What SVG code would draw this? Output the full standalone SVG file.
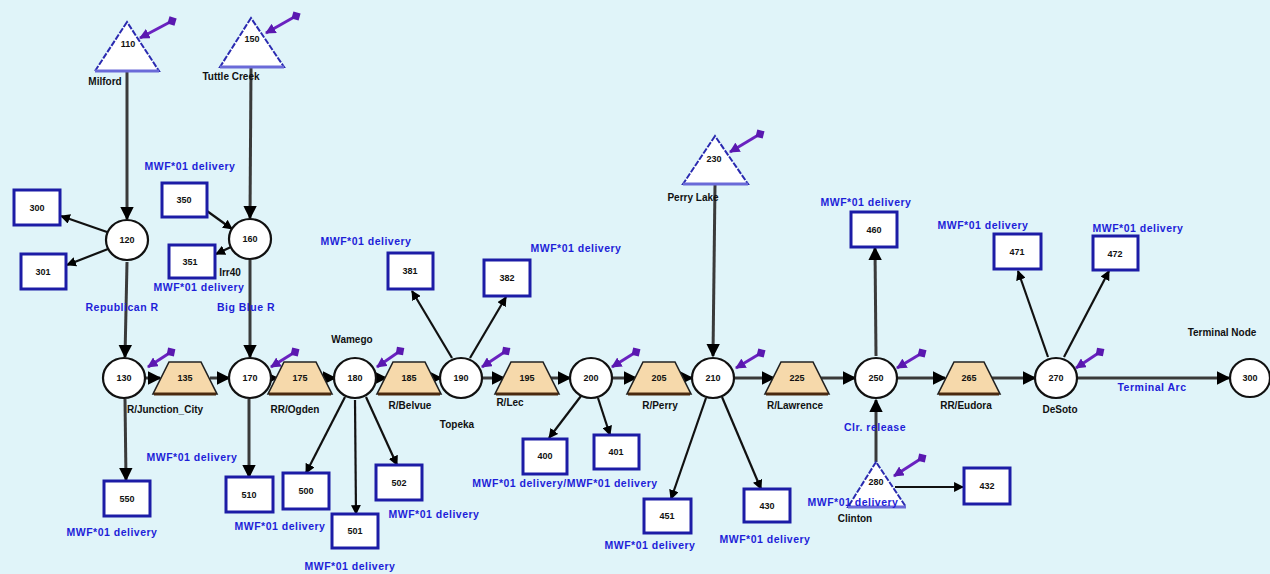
<svg xmlns="http://www.w3.org/2000/svg" width="1270" height="574" viewBox="0 0 1270 574">
<defs>
<style>
.bg{fill:#e0f4f9}
.circ{fill:#fff;stroke:#111;stroke-width:2.2}
.trap{fill:#f6d9ab;stroke:#222;stroke-width:1.6}
.trapb{stroke:#4a2a10;stroke-width:3}
.box{fill:#fff;stroke:#1c1ca6;stroke-width:3}
.tri{fill:#fff;stroke:#2a2ab0;stroke-width:2;stroke-dasharray:6 1.5}
.trib{stroke:#6a6ad8;stroke-width:3}
.num{font-family:"Liberation Sans",Arial,sans-serif;font-size:9px;font-weight:bold;fill:#111;text-anchor:middle}
.lbl{font-family:"Liberation Sans",Arial,sans-serif;font-size:10px;font-weight:bold;fill:#111;text-anchor:middle}
.blu{font-family:"Liberation Sans",Arial,sans-serif;font-size:10.5px;font-weight:bold;fill:#1e1ed8;text-anchor:middle;letter-spacing:0.5px}
.arc{stroke:#3a3a3a;stroke-width:3;fill:none}
.arc2{stroke:#111;stroke-width:2.2;fill:none}
.pur{stroke:#6a22c0;stroke-width:3;fill:none}
</style>
<marker id="ah" viewBox="0 0 10 10" refX="9" refY="5" markerWidth="4.5" markerHeight="4.5" orient="auto" markerUnits="strokeWidth">
<path d="M0,0 L10,5 L0,10 z" fill="#000"/>
</marker>
<marker id="ph" viewBox="0 0 10 10" refX="9" refY="5" markerWidth="3.5" markerHeight="3.5" orient="auto" markerUnits="strokeWidth">
<path d="M0,0 L10,5 L0,10 z" fill="#5a18b0"/>
</marker>
<marker id="pt" viewBox="0 0 10 10" refX="5" refY="5" markerWidth="3.5" markerHeight="3.5" orient="auto" markerUnits="strokeWidth">
<path d="M5,0 L10,5 L5,10 L0,5 z" fill="#5a18b0"/>
</marker>
</defs>
<rect class="bg" x="0" y="0" width="1270" height="574"/>

<g id="connectors">
<line class="arc" x1="146" y1="378" x2="160" y2="378" marker-end="url(#ah)"/>
<line class="arc" x1="210" y1="378" x2="229" y2="378" marker-end="url(#ah)"/>
<line class="arc" x1="271" y1="378" x2="277" y2="378" marker-end="url(#ah)"/>
<line class="arc" x1="324" y1="378" x2="335" y2="378" marker-end="url(#ah)"/>
<line class="arc" x1="376" y1="378" x2="386" y2="378" marker-end="url(#ah)"/>
<line class="arc" x1="433" y1="378" x2="441" y2="378" marker-end="url(#ah)"/>
<line class="arc" x1="482" y1="378" x2="504" y2="378" marker-end="url(#ah)"/>
<line class="arc" x1="551" y1="378" x2="570" y2="378" marker-end="url(#ah)"/>
<line class="arc" x1="612" y1="378" x2="636" y2="378" marker-end="url(#ah)"/>
<line class="arc" x1="683" y1="378" x2="692" y2="378" marker-end="url(#ah)"/>
<line class="arc" x1="734" y1="378" x2="774" y2="378" marker-end="url(#ah)"/>
<line class="arc" x1="821" y1="378" x2="855" y2="378" marker-end="url(#ah)"/>
<line class="arc" x1="897" y1="378" x2="945" y2="378" marker-end="url(#ah)"/>
<line class="arc" x1="992" y1="378" x2="1035" y2="378" marker-end="url(#ah)"/>
<line class="arc" x1="1077" y1="378" x2="1229" y2="378" marker-end="url(#ah)"/>
<line class="arc" x1="127" y1="72" x2="127" y2="219" marker-end="url(#ah)"/>
<line class="arc" x1="127" y1="262" x2="125" y2="357" marker-end="url(#ah)"/>
<line class="arc" x1="125" y1="399" x2="126" y2="480" marker-end="url(#ah)"/>
<line class="arc" x1="251" y1="68" x2="250" y2="218" marker-end="url(#ah)"/>
<line class="arc" x1="250" y1="260" x2="250" y2="357" marker-end="url(#ah)"/>
<line class="arc" x1="249" y1="399" x2="249" y2="477" marker-end="url(#ah)"/>
<line class="arc" x1="715" y1="185" x2="713" y2="356" marker-end="url(#ah)"/>
<line class="arc" x1="876" y1="462" x2="876" y2="400" marker-end="url(#ah)"/>
<line class="arc" x1="876" y1="356" x2="875" y2="248" marker-end="url(#ah)"/>
<line class="arc2" x1="107" y1="232" x2="61" y2="216" marker-end="url(#ah)"/>
<line class="arc2" x1="108" y1="249" x2="67" y2="265" marker-end="url(#ah)"/>
<line class="arc2" x1="207" y1="211" x2="232" y2="229" marker-end="url(#ah)"/>
<line class="arc2" x1="231" y1="247" x2="216" y2="254" marker-end="url(#ah)"/>
<line class="arc2" x1="345" y1="397" x2="306" y2="473" marker-end="url(#ah)"/>
<line class="arc2" x1="355" y1="400" x2="356" y2="514" marker-end="url(#ah)"/>
<line class="arc2" x1="366" y1="397" x2="397" y2="465" marker-end="url(#ah)"/>
<line class="arc2" x1="452" y1="358" x2="412" y2="291" marker-end="url(#ah)"/>
<line class="arc2" x1="470" y1="358" x2="506" y2="297" marker-end="url(#ah)"/>
<line class="arc2" x1="581" y1="396" x2="549" y2="438" marker-end="url(#ah)"/>
<line class="arc2" x1="598" y1="398" x2="610" y2="435" marker-end="url(#ah)"/>
<line class="arc2" x1="706" y1="398" x2="671" y2="499" marker-end="url(#ah)"/>
<line class="arc2" x1="722" y1="397" x2="761" y2="489" marker-end="url(#ah)"/>
<line class="arc2" x1="1048" y1="357" x2="1018" y2="271" marker-end="url(#ah)"/>
<line class="arc2" x1="1064" y1="357" x2="1109" y2="271" marker-end="url(#ah)"/>
<line class="arc2" x1="895" y1="487" x2="963" y2="487" marker-end="url(#ah)"/>
<line class="pur" x1="172" y1="21" x2="140" y2="38" marker-start="url(#pt)" marker-end="url(#ph)"/>
<line class="pur" x1="296" y1="16" x2="266" y2="33" marker-start="url(#pt)" marker-end="url(#ph)"/>
<line class="pur" x1="760" y1="134" x2="730" y2="152" marker-start="url(#pt)" marker-end="url(#ph)"/>
<line class="pur" x1="922" y1="458" x2="894" y2="476" marker-start="url(#pt)" marker-end="url(#ph)"/>
<line class="pur" x1="171" y1="352" x2="148" y2="367" marker-start="url(#pt)" marker-end="url(#ph)"/>
<line class="pur" x1="295" y1="352" x2="271" y2="367" marker-start="url(#pt)" marker-end="url(#ph)"/>
<line class="pur" x1="400" y1="351" x2="377" y2="367" marker-start="url(#pt)" marker-end="url(#ph)"/>
<line class="pur" x1="506" y1="351" x2="482" y2="367" marker-start="url(#pt)" marker-end="url(#ph)"/>
<line class="pur" x1="636" y1="352" x2="612" y2="367" marker-start="url(#pt)" marker-end="url(#ph)"/>
<line class="pur" x1="761" y1="353" x2="736" y2="368" marker-start="url(#pt)" marker-end="url(#ph)"/>
<line class="pur" x1="922" y1="353" x2="897" y2="368" marker-start="url(#pt)" marker-end="url(#ph)"/>
<line class="pur" x1="1100" y1="352" x2="1076" y2="368" marker-start="url(#pt)" marker-end="url(#ph)"/>
</g>

<g id="milford"><polygon class="tri" points="127,22 95,71 159,71"/><line class="trib" x1="95" y1="71" x2="159" y2="71"/><text class="num" x="128" y="47">110</text><text class="lbl" x="105" y="85">Milford</text></g>
<g id="tuttle"><polygon class="tri" points="251,18 220,67 284,67"/><line class="trib" x1="220" y1="67" x2="284" y2="67"/><text class="num" x="252" y="42">150</text><text class="lbl" x="231" y="80">Tuttle Creek</text></g>
<g id="perry"><polygon class="tri" points="715,136 683,184 748,184"/><line class="trib" x1="683" y1="184" x2="748" y2="184"/><text class="num" x="714" y="162">230</text><text class="lbl" x="693" y="201">Perry Lake</text></g>
<g id="clinton"><polygon class="tri" points="876,462 848,507 906,507"/><line class="trib" x1="848" y1="507" x2="906" y2="507"/><text class="num" x="876" y="485">280</text><text class="lbl" x="855" y="522">Clinton</text></g>

<g id="n120"><ellipse class="circ" cx="127" cy="240" rx="21" ry="20"/><text class="num" x="127" y="243">120</text></g>
<g id="n160"><ellipse class="circ" cx="250" cy="239" rx="21" ry="20"/><text class="num" x="250" y="242">160</text></g>
<g id="n130"><ellipse class="circ" cx="124" cy="378" rx="21" ry="20"/><text class="num" x="124" y="381">130</text></g>
<g id="n170"><ellipse class="circ" cx="250" cy="378" rx="21" ry="20"/><text class="num" x="250" y="381">170</text></g>
<g id="n180"><ellipse class="circ" cx="355" cy="378" rx="21" ry="20"/><text class="num" x="355" y="381">180</text></g>
<g id="n190"><ellipse class="circ" cx="461" cy="378" rx="21" ry="20"/><text class="num" x="461" y="381">190</text></g>
<g id="n200"><ellipse class="circ" cx="591" cy="378" rx="21" ry="20"/><text class="num" x="591" y="381">200</text></g>
<g id="n210"><ellipse class="circ" cx="713" cy="378" rx="21" ry="20"/><text class="num" x="713" y="381">210</text></g>
<g id="n250"><ellipse class="circ" cx="876" cy="378" rx="21" ry="20"/><text class="num" x="876" y="381">250</text></g>
<g id="n270"><ellipse class="circ" cx="1056" cy="378" rx="21" ry="20"/><text class="num" x="1056" y="381">270</text></g>
<g id="n300"><ellipse class="circ" cx="1250" cy="378" rx="20" ry="19"/><text class="num" x="1250" y="381">300</text></g>

<g id="r135"><polygon class="trap" points="169,362 201,362 217,394 153,394"/><line class="trapb" x1="154" y1="394" x2="216" y2="394"/><text class="num" x="185" y="381">135</text></g>
<g id="r175"><polygon class="trap" points="284,362 316,362 332,394 268,394"/><line class="trapb" x1="269" y1="394" x2="331" y2="394"/><text class="num" x="300" y="381">175</text></g>
<g id="r185"><polygon class="trap" points="393,362 425,362 441,394 377,394"/><line class="trapb" x1="378" y1="394" x2="440" y2="394"/><text class="num" x="409" y="381">185</text></g>
<g id="r195"><polygon class="trap" points="511,362 543,362 559,394 495,394"/><line class="trapb" x1="496" y1="394" x2="558" y2="394"/><text class="num" x="527" y="381">195</text></g>
<g id="r205"><polygon class="trap" points="643,362 675,362 691,394 627,394"/><line class="trapb" x1="628" y1="394" x2="690" y2="394"/><text class="num" x="659" y="381">205</text></g>
<g id="r225"><polygon class="trap" points="781,362 813,362 829,394 765,394"/><line class="trapb" x1="766" y1="394" x2="828" y2="394"/><text class="num" x="797" y="381">225</text></g>
<g id="r265"><polygon class="trap" points="954,362 984,362 1000,394 938,394"/><line class="trapb" x1="939" y1="394" x2="999" y2="394"/><text class="num" x="969" y="381">265</text></g>

<g id="d300"><rect class="box" x="14" y="190" width="46" height="35"/><text class="num" x="37" y="211">300</text></g>
<g id="d301"><rect class="box" x="21" y="254" width="45" height="35"/><text class="num" x="43" y="275">301</text></g>
<g id="d350"><rect class="box" x="162" y="183" width="45" height="34"/><text class="num" x="184" y="203">350</text></g>
<g id="d351"><rect class="box" x="169" y="245" width="46" height="33"/><text class="num" x="190" y="265">351</text></g>
<g id="d550"><rect class="box" x="104" y="481" width="46" height="35"/><text class="num" x="127" y="502">550</text></g>
<g id="d510"><rect class="box" x="226" y="477" width="47" height="35"/><text class="num" x="249" y="498">510</text></g>
<g id="d500"><rect class="box" x="283" y="473" width="46" height="36"/><text class="num" x="306" y="494">500</text></g>
<g id="d501"><rect class="box" x="332" y="514" width="46" height="34"/><text class="num" x="355" y="534">501</text></g>
<g id="d502"><rect class="box" x="376" y="465" width="46" height="35"/><text class="num" x="399" y="486">502</text></g>
<g id="d381"><rect class="box" x="388" y="253" width="45" height="36"/><text class="num" x="410" y="274">381</text></g>
<g id="d382"><rect class="box" x="484" y="260" width="46" height="36"/><text class="num" x="507" y="281">382</text></g>
<g id="d400"><rect class="box" x="523" y="439" width="44" height="35"/><text class="num" x="545" y="459">400</text></g>
<g id="d401"><rect class="box" x="594" y="435" width="45" height="34"/><text class="num" x="616" y="455">401</text></g>
<g id="d451"><rect class="box" x="644" y="499" width="47" height="34"/><text class="num" x="667" y="519">451</text></g>
<g id="d430"><rect class="box" x="744" y="489" width="46" height="33"/><text class="num" x="767" y="509">430</text></g>
<g id="d460"><rect class="box" x="851" y="212" width="46" height="35"/><text class="num" x="874" y="233">460</text></g>
<g id="d432"><rect class="box" x="964" y="468" width="46" height="36"/><text class="num" x="987" y="489">432</text></g>
<g id="d471"><rect class="box" x="994" y="234" width="47" height="35"/><text class="num" x="1017" y="255">471</text></g>
<g id="d472"><rect class="box" x="1093" y="236" width="45" height="34"/><text class="num" x="1115" y="257">472</text></g>

<g id="labels">
<text class="lbl" x="165" y="413">R/Junction_City</text>
<text class="lbl" x="295" y="413">RR/Ogden</text>
<text class="lbl" x="352" y="343">Wamego</text>
<text class="lbl" x="410" y="409">R/Belvue</text>
<text class="lbl" x="457" y="428">Topeka</text>
<text class="lbl" x="510" y="406">R/Lec</text>
<text class="lbl" x="660" y="409">R/Perry</text>
<text class="lbl" x="795" y="409">R/Lawrence</text>
<text class="lbl" x="966" y="409">RR/Eudora</text>
<text class="lbl" x="1060" y="413">DeSoto</text>
<text class="lbl" x="1222" y="336">Terminal Node</text>
<text class="lbl" x="230" y="276">Irr40</text>
<text class="blu" x="190" y="170">MWF*01 delivery</text>
<text class="blu" x="199" y="291">MWF*01 delivery</text>
<text class="blu" x="122" y="311">Republican R</text>
<text class="blu" x="246" y="311">Big Blue R</text>
<text class="blu" x="192" y="461">MWF*01 delivery</text>
<text class="blu" x="112" y="536">MWF*01 delivery</text>
<text class="blu" x="280" y="530">MWF*01 delivery</text>
<text class="blu" x="350" y="570">MWF*01 delivery</text>
<text class="blu" x="434" y="518">MWF*01 delivery</text>
<text class="blu" x="366" y="245">MWF*01 delivery</text>
<text class="blu" x="576" y="252">MWF*01 delivery</text>
<text class="blu" x="565" y="487">MWF*01 delivery/MWF*01 delivery</text>
<text class="blu" x="650" y="549">MWF*01 delivery</text>
<text class="blu" x="765" y="543">MWF*01 delivery</text>
<text class="blu" x="866" y="206">MWF*01 delivery</text>
<text class="blu" x="983" y="229">MWF*01 delivery</text>
<text class="blu" x="1138" y="232">MWF*01 delivery</text>
<text class="blu" x="853" y="506">MWF*01 delivery</text>
<text class="blu" x="875" y="431">Clr. release</text>
<text class="blu" x="1152" y="391">Terminal Arc</text>
</g>
</svg>
